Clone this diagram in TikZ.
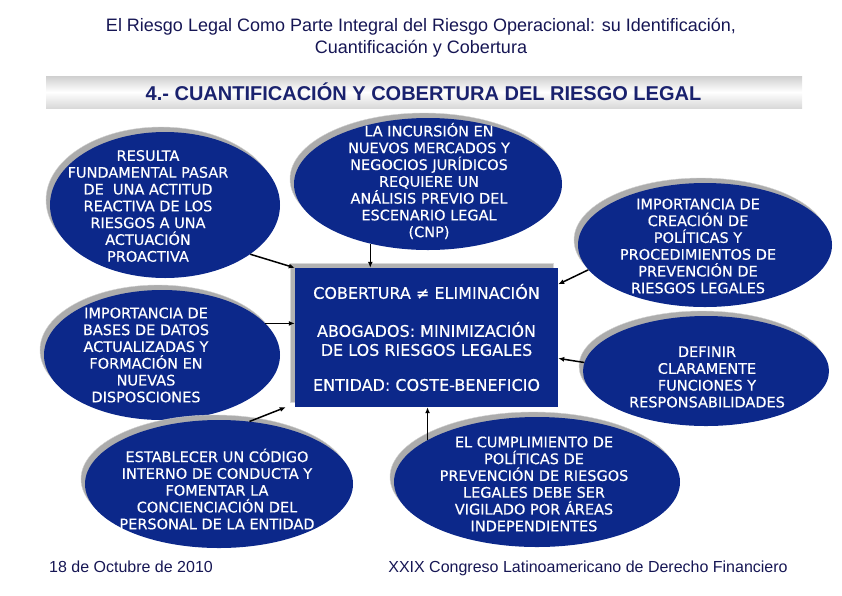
\documentclass[tikz,border=0pt]{standalone}
\usepackage{fontspec}
\setmainfont{Liberation Sans}
\newfontfamily\comicfont[FakeBold=0.4]{DejaVu Sans}
\usepackage{xcolor}
\usetikzlibrary{arrows.meta, positioning, shapes.geometric, shadows, calc}

\definecolor{navyfill}{RGB}{12,40,138}
\definecolor{titlenavy}{RGB}{22,22,84}
\definecolor{bandnavy}{RGB}{26,34,110}

\begin{document}
\begin{tikzpicture}[
        x=1pt, y=-1pt,
        blob/.style={ellipse, fill=navyfill, inner sep=0pt,
            drop shadow={shadow xshift=-4pt, shadow yshift=5pt, fill=gray!65, draw=gray!35, opacity=1}},
        blobtext/.style={align=center, text=white, font=\comicfont\fontsize{14.5}{16.8}\selectfont, inner sep=0pt},
        cover/.style={rectangle, fill=navyfill, minimum width=263pt, minimum height=139pt, align=center, text=white,
            font=\comicfont\fontsize{16}{19}\selectfont,
            drop shadow={shadow xshift=-5pt, shadow yshift=5pt, fill=gray!60, draw=gray!30, opacity=1}},
        arrow/.style={-{Latex[length=6pt, width=5pt]}, line width=1.5pt, black},
        footer/.style={font=\fontsize{16}{19}\selectfont, text=titlenavy, anchor=base}
    ]
    \useasboundingbox (0,0) rectangle (842,595);

    % title and banner
    \node[align=center, text=titlenavy, font=\fontsize{18}{21.5}\selectfont] (titulo) at (421,37.5)
        {El Riesgo Legal Como Parte Integral del Riesgo Operacional: su Identificación,\\ Cuantificación y Cobertura};
    \node[minimum width=756pt, minimum height=32pt, inner sep=0pt,
        top color=gray!38, bottom color=gray!30, middle color=white] (franja) at (424,92) {};
    \node[text=bandnavy, font=\bfseries\fontsize{20}{23}\selectfont] (seccion) at (423.5,92)
        {4.- CUANTIFICACIÓN Y COBERTURA DEL RIESGO LEGAL};

    % central box
    \node[cover] (cobertura) at (426.5,337.5)
        {COBERTURA ≠ ELIMINACIÓN\\[19pt] ABOGADOS: MINIMIZACIÓN\\ DE LOS RIESGOS LEGALES\\[16pt] ENTIDAD: COSTE-BENEFICIO};

    % ellipses
    \node[blob, minimum width=230pt, minimum height=146pt] (actitud) at (165,205) {};
    \node[blobtext] (actitud-txt) at (148,206)
        {RESULTA\\ FUNDAMENTAL PASAR\\ DE \ UNA ACTITUD\\ REACTIVA DE LOS\\ RIESGOS A UNA\\ ACTUACIÓN\\ PROACTIVA};

    \node[blob, minimum width=268pt, minimum height=132pt] (incursion) at (428,184) {};
    \node[blobtext] (incursion-txt) at (429,181)
        {LA INCURSIÓN EN\\ NUEVOS MERCADOS Y\\ NEGOCIOS JURÍDICOS\\ REQUIERE UN\\ ANÁLISIS PREVIO DEL\\ ESCENARIO LEGAL\\ (CNP)};

    \node[blob, minimum width=254pt, minimum height=124pt] (politicas) at (705,245) {};
    \node[blobtext] (politicas-txt) at (698,246)
        {IMPORTANCIA DE\\ CREACIÓN DE\\ POLÍTICAS Y\\ PROCEDIMIENTOS DE\\ PREVENCIÓN DE\\ RIESGOS LEGALES};

    \node[blob, minimum width=236pt, minimum height=130pt] (bases) at (162,355) {};
    \node[blobtext] (bases-txt) at (146,355)
        {IMPORTANCIA DE\\ BASES DE DATOS\\ ACTUALIZADAS Y\\ FORMACIÓN EN\\ NUEVAS\\ DISPOSCIONES};

    \node[blob, minimum width=246pt, minimum height=110pt] (funciones) at (706,371) {};
    \node[blobtext] (funciones-txt) at (707,377)
        {DEFINIR\\ CLARAMENTE\\ FUNCIONES Y\\ RESPONSABILIDADES};

    \node[blob, minimum width=268pt, minimum height=128pt] (codigo) at (219,484) {};
    \node[blobtext] (codigo-txt) at (217,489)
        {ESTABLECER UN CÓDIGO\\ INTERNO DE CONDUCTA Y\\ FOMENTAR LA\\ CONCIENCIACIÓN DEL\\ PERSONAL DE LA ENTIDAD};

    \node[blob, minimum width=286pt, minimum height=130pt] (cumplimiento) at (537,482) {};
    \node[blobtext] (cumplimiento-txt) at (534,484)
        {EL CUMPLIMIENTO DE\\ POLÍTICAS DE\\ PREVENCIÓN DE RIESGOS\\ LEGALES DEBE SER\\ VIGILADO POR ÁREAS\\ INDEPENDIENTES};

    % arrows towards the box
    \draw[arrow] (actitud.-30) -- (cobertura.north west);
    \draw[arrow] (bases.17) -- (bases.17 -| cobertura.west);
    \draw[arrow] (codigo.64) -- ([xshift=-9pt]cobertura.south west);
    \draw[arrow] (incursion.-134) -- (incursion.-134 |- cobertura.north);
    \draw[arrow] (cumplimiento.159) -- (cumplimiento.159 |- cobertura.south);
    \draw[arrow] (politicas.192) -- (cobertura.22);
    \draw[arrow] (funciones.176) -- (cobertura.-9);

    % footer
    \node[footer] (fecha) at (131,572) {18 de Octubre de 2010};
    \node[footer] (congreso) at (588,572) {XXIX Congreso Latinoamericano de Derecho Financiero};

\end{tikzpicture}
\end{document}
